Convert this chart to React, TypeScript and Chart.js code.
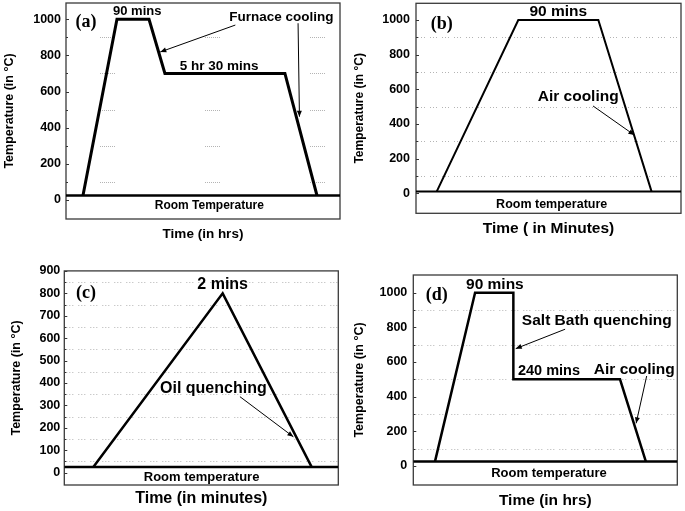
import React, { useEffect, useRef } from 'react';
import { Chart, registerables } from 'chart.js';

Chart.register(...registerables);

const SANS = '"Liberation Sans", Arial, Helvetica, sans-serif';
const SERIF = '"Liberation Serif", "Times New Roman", serif';

// ---------------- data ----------------
const Y_TITLE = 'Temperature (in °C)';

// (a)
const A_TIME = [6.2, 18.6, 30.3, 36.1, 79.9, 91.6];
const A_TEMP = [25, 1000, 1000, 700, 700, 25];
const A_ROOM = 25;
const A_TICKS = [0, 200, 400, 600, 800, 1000];
const A_MINOR = [100, 300, 500, 700, 900];
const A_XTITLE = 'Time (in hrs)';
const A_NOTES = ['(a)', '90 mins', 'Furnace cooling', '5 hr 30 mins', 'Room Temperature'];

// (b)
const B_TIME = [7.8, 38.6, 68.8, 88.9];
const B_TEMP = [10, 1000, 1000, 10];
const B_ROOM = 10;
const B_TICKS = [0, 200, 400, 600, 800, 1000];
const B_MINOR = [100, 300, 500, 700, 900];
const B_XTITLE = 'Time ( in Minutes)';
const B_NOTES = ['(b)', '90 mins', 'Air cooling', 'Room temperature'];

// (c)
const C_TIME = [10.6, 57.8, 90.3];
const C_TEMP = [25, 800, 25];
const C_ROOM = 25;
const C_TICKS = [0, 100, 200, 300, 400, 500, 600, 700, 800, 900];
const C_MINOR = [50, 150, 250, 350, 450, 550, 650, 750, 850];
const C_XTITLE = 'Time (in minutes)';
const C_NOTES = ['(c)', '2 mins', 'Oil quenching', 'Room temperature'];

// (d)
const D_TIME = [8.2, 23.4, 37.9, 37.9, 78.3, 88.1];
const D_TEMP = [25, 1000, 1000, 500, 500, 25];
const D_ROOM = 25;
const D_TICKS = [0, 200, 400, 600, 800, 1000];
const D_MINOR = [100, 300, 500, 700, 900];
const D_XTITLE = 'Time (in hrs)';
const D_NOTES = ['(d)', '90 mins', 'Salt Bath quenching', '240 mins', 'Air cooling', 'Room temperature'];

// ---------------- layout ----------------
const CLUSTER_DASH = [1, 1, 1, 1, 1, 1, 1, 1, 1, 1, 1, 1, 1, 1, 1, 90];
const FINE_DASH = [1, 2, 1, 2, 1, 5];

type NotePos = { i: number; x: number; y: number; size: number; serif?: boolean };

const PANELS: any[] = [
  {
    key: 'a', cx: 0, cy: 0, cw: 345, ch: 250,
    plotLeft: 66, plotTop: 3, plotRight: 340, plotBottom: 219,
    yMin: -105, yMax: 1090, xMin: 0, xMax: 100,
    time: A_TIME, temp: A_TEMP, room: A_ROOM, ticks: A_TICKS, minor: A_MINOR,
    lineWidth: 3, roomWidth: 2.5, tickFont: 12.5, tickPad: 5,
    yTitleFont: 12.5, yTitleCenter: 10,
    xTitle: A_XTITLE, xTitleFont: 13.5, xTitleCenter: 234,
    dash: CLUSTER_DASH, dashOffset: 73,
    texts: A_NOTES,
    notes: [
      { i: 0, x: 7.3, y: 985, size: 18, serif: true },
      { i: 1, x: 26, y: 1046, size: 13 },
      { i: 2, x: 78.6, y: 1013, size: 13.5 },
      { i: 3, x: 55.9, y: 741, size: 13.5 },
      { i: 4, x: 52.3, y: -33, size: 12 },
    ] as NotePos[],
    arrows: [[61.8, 968, 34.4, 819], [84.7, 978, 85.2, 461]],
  },
  {
    key: 'b', cx: 345, cy: 0, cw: 340, ch: 250,
    plotLeft: 416, plotTop: 3.3, plotRight: 681, plotBottom: 213.3,
    yMin: -115, yMax: 1096, xMin: 0, xMax: 100,
    time: B_TIME, temp: B_TEMP, room: B_ROOM, ticks: B_TICKS, minor: B_MINOR,
    lineWidth: 2, roomWidth: 2, tickFont: 12.5, tickPad: 6,
    yTitleFont: 12, yTitleCenter: 360,
    xTitle: B_XTITLE, xTitleFont: 15.5, xTitleCenter: 229,
    dash: FINE_DASH, dashOffset: 0,
    texts: B_NOTES,
    notes: [
      { i: 0, x: 9.7, y: 977, size: 18, serif: true },
      { i: 1, x: 53.7, y: 1046, size: 15.5 },
      { i: 2, x: 61.2, y: 556, size: 15.5 },
      { i: 3, x: 51.2, y: -62, size: 12.5 },
    ] as NotePos[],
    arrows: [[66.8, 504, 82.4, 336]],
  },
  {
    key: 'c', cx: 0, cy: 250, cw: 345, ch: 261,
    plotLeft: 64.3, plotTop: 270.9, plotRight: 338.3, plotBottom: 485,
    yMin: -55, yMax: 900, xMin: 0, xMax: 100,
    time: C_TIME, temp: C_TEMP, room: C_ROOM, ticks: C_TICKS, minor: C_MINOR,
    lineWidth: 2.5, roomWidth: 2.5, tickFont: 12.5, tickPad: 4,
    yTitleFont: 12.5, yTitleCenter: 16.7,
    xTitle: C_XTITLE, xTitleFont: 16, xTitleCenter: 498.3,
    dash: FINE_DASH, dashOffset: 0,
    texts: C_NOTES,
    notes: [
      { i: 0, x: 7.9, y: 800, size: 18, serif: true },
      { i: 1, x: 57.8, y: 837, size: 16 },
      { i: 2, x: 54.4, y: 376, size: 16 },
      { i: 3, x: 50.1, y: -22, size: 13 },
    ] as NotePos[],
    arrows: [[64.1, 339, 83.6, 160]],
  },
  {
    key: 'd', cx: 345, cy: 250, cw: 340, ch: 261,
    plotLeft: 413.3, plotTop: 275, plotRight: 677.3, plotBottom: 485,
    yMin: -110, yMax: 1102, xMin: 0, xMax: 100,
    time: D_TIME, temp: D_TEMP, room: D_ROOM, ticks: D_TICKS, minor: D_MINOR,
    lineWidth: 2.5, roomWidth: 2.5, tickFont: 12.5, tickPad: 6,
    yTitleFont: 12.5, yTitleCenter: 360,
    xTitle: D_XTITLE, xTitleFont: 15.5, xTitleCenter: 500.7,
    dash: FINE_DASH, dashOffset: 0,
    texts: D_NOTES,
    notes: [
      { i: 0, x: 8.9, y: 987, size: 18, serif: true },
      { i: 1, x: 30.9, y: 1044, size: 15.5 },
      { i: 2, x: 69.5, y: 837, size: 15.5 },
      { i: 3, x: 51.4, y: 550, size: 14.5 },
      { i: 4, x: 83.7, y: 558, size: 15.5 },
      { i: 5, x: 51.4, y: -46, size: 13 },
    ] as NotePos[],
    arrows: [[57.5, 789, 38.8, 677], [88.4, 519, 84.4, 246]],
  },
];

function makeDecor(p: any) {
  return {
    id: 'decor_' + p.key,
    beforeDatasetsDraw(chart: any) {
      const { ctx, chartArea: ca } = chart;
      const y = chart.scales.y;
      ctx.save();
      // dotted minor grid
      ctx.lineWidth = 1;
      ctx.strokeStyle = '#b4b4b4';
      ctx.setLineDash(p.dash);
      ctx.lineDashOffset = p.dashOffset;
      for (const v of p.minor) {
        const py = Math.round(y.getPixelForValue(v)) + 0.5;
        ctx.beginPath();
        ctx.moveTo(ca.left + 2, py);
        ctx.lineTo(ca.right, py);
        ctx.stroke();
      }
      ctx.setLineDash([]);
      // small inward ticks
      ctx.strokeStyle = '#333';
      for (const v of p.ticks) {
        const py = Math.round(y.getPixelForValue(v)) + 0.5;
        ctx.beginPath();
        ctx.moveTo(ca.left, py);
        ctx.lineTo(ca.left + 3, py);
        ctx.stroke();
      }
      for (const v of p.minor) {
        const py = Math.round(y.getPixelForValue(v)) + 0.5;
        ctx.beginPath();
        ctx.moveTo(ca.left, py);
        ctx.lineTo(ca.left + 2, py);
        ctx.stroke();
      }
      // frame
      ctx.lineWidth = 1.3;
      ctx.strokeStyle = '#3a3a3a';
      ctx.strokeRect(ca.left, ca.top, ca.right - ca.left, ca.bottom - ca.top);
      ctx.restore();
    },
    afterDatasetsDraw(chart: any) {
      const { ctx } = chart;
      const x = chart.scales.x;
      const y = chart.scales.y;
      ctx.save();
      ctx.fillStyle = '#000';
      ctx.textAlign = 'center';
      ctx.textBaseline = 'middle';
      for (const n of p.notes as NotePos[]) {
        ctx.font = `bold ${n.size}px ${n.serif ? SERIF : SANS}`;
        ctx.fillText(p.texts[n.i], x.getPixelForValue(n.x), y.getPixelForValue(n.y));
      }
      ctx.strokeStyle = '#000';
      ctx.lineWidth = 1;
      for (const a of p.arrows) {
        const x1 = x.getPixelForValue(a[0]);
        const y1 = y.getPixelForValue(a[1]);
        const x2 = x.getPixelForValue(a[2]);
        const y2 = y.getPixelForValue(a[3]);
        ctx.beginPath();
        ctx.moveTo(x1, y1);
        ctx.lineTo(x2, y2);
        ctx.stroke();
        const ang = Math.atan2(y2 - y1, x2 - x1);
        const L = 6;
        const W = 2.5;
        ctx.beginPath();
        ctx.moveTo(x2, y2);
        ctx.lineTo(x2 - L * Math.cos(ang) + W * Math.sin(ang), y2 - L * Math.sin(ang) - W * Math.cos(ang));
        ctx.lineTo(x2 - L * Math.cos(ang) - W * Math.sin(ang), y2 - L * Math.sin(ang) + W * Math.cos(ang));
        ctx.closePath();
        ctx.fill();
      }
      ctx.restore();
    },
  };
}

function buildConfig(p: any): any {
  const yW = p.plotLeft - p.cx;
  const xH = p.cy + p.ch - p.plotBottom;
  const yLh = p.yTitleFont * 1.2;
  const xLh = p.xTitleFont * 1.2;
  return {
    type: 'line',
    data: {
      datasets: [
        {
          data: p.time.map((t: number, i: number) => ({ x: t, y: p.temp[i] })),
          borderColor: '#000',
          borderWidth: p.lineWidth,
          pointRadius: 0,
          tension: 0,
          fill: false,
          borderJoinStyle: 'miter',
        },
        {
          data: [{ x: p.xMin, y: p.room }, { x: p.xMax, y: p.room }],
          borderColor: '#000',
          borderWidth: p.roomWidth,
          pointRadius: 0,
          fill: false,
        },
      ],
    },
    options: {
      animation: false,
      responsive: false,
      maintainAspectRatio: false,
      events: [],
      layout: { padding: { left: 0, top: p.plotTop - p.cy, right: p.cx + p.cw - p.plotRight, bottom: 0 } },
      plugins: { legend: { display: false }, tooltip: { enabled: false } },
      scales: {
        x: {
          type: 'linear', position: 'bottom', min: p.xMin, max: p.xMax,
          ticks: { display: false },
          grid: { display: false, drawTicks: false, tickLength: 0 },
          border: { display: false },
          title: {
            display: true, text: p.xTitle, color: '#000',
            font: { family: SANS, size: p.xTitleFont, weight: 'bold' },
            padding: { top: 0, bottom: p.cy + p.ch - p.xTitleCenter - xLh / 2 },
          },
          afterFit: (s: any) => {
            s.height = xH;
            s.paddingLeft = 0; s.paddingRight = 0; s.paddingTop = 0; s.paddingBottom = 0;
          },
        },
        y: {
          type: 'linear', position: 'left', min: p.yMin, max: p.yMax,
          afterBuildTicks: (s: any) => { s.ticks = p.ticks.map((v: number) => ({ value: v })); },
          ticks: {
            autoSkip: false, padding: p.tickPad, color: '#000',
            font: { family: SANS, size: p.tickFont, weight: 'bold' },
            callback: (v: any) => String(v),
          },
          grid: { display: false, drawTicks: false, tickLength: 0 },
          border: { display: false },
          title: {
            display: true, text: Y_TITLE, color: '#000',
            font: { family: SANS, size: p.yTitleFont, weight: 'bold' },
            padding: { top: p.yTitleCenter - p.cx - yLh / 2, bottom: 0 },
          },
          afterFit: (s: any) => {
            s.width = yW;
            s.paddingLeft = 0; s.paddingRight = 0; s.paddingTop = 0; s.paddingBottom = 0;
          },
        },
      },
    },
    plugins: [makeDecor(p)],
  };
}

function Panel({ p }: { p: any }) {
  const ref = useRef<HTMLCanvasElement>(null);
  useEffect(() => {
    const chart = new Chart(ref.current as HTMLCanvasElement, buildConfig(p));
    return () => chart.destroy();
  }, [p]);
  return (
    <canvas
      ref={ref}
      width={p.cw}
      height={p.ch}
      style={{ position: 'absolute', left: p.cx, top: p.cy, width: p.cw, height: p.ch }}
    />
  );
}

export default function App() {
  return (
    <div style={{ position: 'absolute', left: 0, top: 0, width: 685, height: 511, background: '#fff' }}>
      {PANELS.map((p) => (
        <Panel key={p.key} p={p} />
      ))}
    </div>
  );
}
